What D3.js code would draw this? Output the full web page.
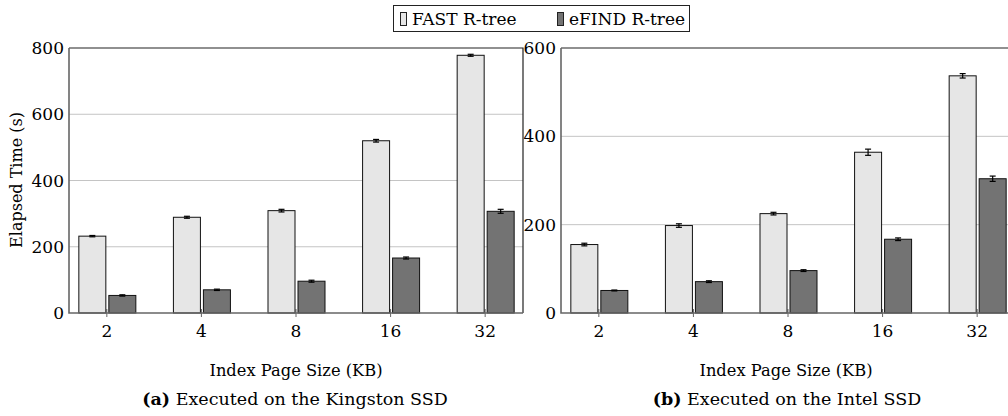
<!DOCTYPE html>
<html>
<head>
<meta charset="utf-8">
<script src="https://cdn.jsdelivr.net/npm/d3@7"></script>
<style>
  body { margin: 0; background: #fff; }
  svg text { font-family: "DejaVu Serif"; }
</style>
</head>
<body>
<svg id="chart" width="1008" height="416"></svg>
<script>
const pageSizes = ['2', '4', '8', '16', '32'];
const seriesNames = ['FAST R-tree', 'eFIND R-tree'];

// Kingston SSD (a)
const kingstonFast = [232, 289, 309, 520, 778];
const kingstonFastErr = [2, 3, 4, 4, 3];
const kingstonEfind = [53, 70, 96, 166, 307];
const kingstonEfindErr = [2, 2, 3, 3, 6];
const kingstonTicks = [0, 200, 400, 600, 800];

// Intel SSD (b)
const intelFast = [155, 198, 225, 364, 537];
const intelFastErr = [3, 4, 3, 7, 5];
const intelEfind = [51, 71, 96, 167, 304];
const intelEfindErr = [1, 2, 2, 3, 6];
const intelTicks = [0, 200, 400, 600];

const fills = ['#e6e6e6', '#737373'];

const svg = d3.select('#chart');
const plotTop = 48, plotBottom = 313, plotW = 454;

const drawPanel = options => {
  const g = svg.append('g');
  const x = d3.scalePoint()
              .domain(pageSizes)
              .range([options.x0, options.x0 + plotW])
              .padding(0.4);
  const y = d3.scaleLinear()
              .domain([0, options.ymax])
              .range([plotBottom, plotTop]);

  // grid
  g.selectAll('.grid')
   .data(options.ticks.filter(t => t > 0 && t < options.ymax))
   .enter().append('line')
   .attr('x1', options.x0).attr('x2', options.x0 + plotW)
   .attr('y1', d => y(d)).attr('y2', d => y(d))
   .attr('stroke', '#c4c4c4').attr('stroke-width', 1);

  // frame top / right
  g.append('path')
   .attr('d', `M${options.x0},${plotTop}H${options.x0 + plotW}V${plotBottom}`)
   .attr('fill', 'none').attr('stroke', '#222').attr('stroke-width', 1.2);

  // x ticks
  g.selectAll('.xt')
   .data(pageSizes)
   .enter().append('line')
   .attr('x1', d => x(d)).attr('x2', d => x(d))
   .attr('y1', plotBottom - 4).attr('y2', plotBottom + 4)
   .attr('stroke', '#666').attr('stroke-width', 1);

  const barW = 27, gap = 1;
  const series = [
    {vals: options.fast, errs: options.fastErr, off: -gap - barW, fill: fills[0]},
    {vals: options.efind, errs: options.efindErr, off: gap + 1, fill: fills[1]}
  ];

  series.forEach(s => {
    g.selectAll(null)
     .data(pageSizes)
     .enter().append('rect')
     .attr('x', d => x(d) + s.off)
     .attr('y', (d, i) => y(s.vals[i]))
     .attr('width', barW)
     .attr('height', (d, i) => plotBottom - y(s.vals[i]))
     .attr('fill', s.fill)
     .attr('stroke', '#111').attr('stroke-width', 1);

    // error bars
    const eb = g.selectAll(null)
                .data(pageSizes)
                .enter().append('g')
                .attr('stroke', '#000').attr('stroke-width', 1.2);
    const cx = d => x(d) + s.off + barW / 2;
    eb.append('line')
      .attr('x1', cx).attr('x2', cx)
      .attr('y1', (d, i) => y(s.vals[i] - s.errs[i]))
      .attr('y2', (d, i) => y(s.vals[i] + s.errs[i]));
    [-1, 1].forEach(sign => {
      eb.append('line')
        .attr('x1', d => cx(d) - 3).attr('x2', d => cx(d) + 3)
        .attr('y1', (d, i) => y(s.vals[i] + sign * s.errs[i]))
        .attr('y2', (d, i) => y(s.vals[i] + sign * s.errs[i]));
    });
  });

  // left and bottom axis lines
  g.append('path')
   .attr('d', `M${options.x0},${plotTop}V${plotBottom}H${options.x0 + plotW}`)
   .attr('fill', 'none').attr('stroke', '#666').attr('stroke-width', 1.6);

  // y tick labels
  g.selectAll('.yl')
   .data(options.ticks)
   .enter().append('text')
   .attr('x', options.x0 - 5)
   .attr('y', d => y(d) + 6)
   .attr('text-anchor', 'end')
   .attr('font-size', 17)
   .text(d => d);

  // x tick labels
  g.selectAll('.xl')
   .data(pageSizes)
   .enter().append('text')
   .attr('x', d => x(d))
   .attr('y', 337)
   .attr('text-anchor', 'middle')
   .attr('font-size', 17)
   .text(d => d);

  const cx = options.x0 + plotW / 2 + options.titleShift;
  g.append('text')
   .attr('x', cx).attr('y', 376)
   .attr('text-anchor', 'middle')
   .attr('font-size', 16.3)
   .text('Index Page Size (KB)');

  const cap = g.append('text')
               .attr('x', options.capX).attr('y', 405)
               .attr('text-anchor', 'middle')
               .attr('font-size', 17.5);
  cap.append('tspan').attr('font-weight', 'bold').text(options.capLabel);
  cap.append('tspan').text(' ' + options.caption);
};

drawPanel({
  x0: 69, ymax: 800, ticks: kingstonTicks,
  fast: kingstonFast, fastErr: kingstonFastErr,
  efind: kingstonEfind, efindErr: kingstonEfindErr,
  titleShift: 0, capX: 295,
  capLabel: '(a)', caption: 'Executed on the Kingston SSD'
});

drawPanel({
  x0: 561, ymax: 600, ticks: intelTicks,
  fast: intelFast, fastErr: intelFastErr,
  efind: intelEfind, efindErr: intelEfindErr,
  titleShift: -2, capX: 787,
  capLabel: '(b)', caption: 'Executed on the Intel SSD'
});

// y axis title
svg.append('text')
   .attr('transform', 'translate(22,180) rotate(-90)')
   .attr('text-anchor', 'middle')
   .attr('font-size', 16)
   .text('Elapsed Time (s)');

// legend
const legend = svg.append('g');
legend.append('rect')
      .attr('x', 393.5).attr('y', 5.5).attr('width', 296).attr('height', 26)
      .attr('fill', '#fff').attr('stroke', '#222').attr('stroke-width', 1);
const legendX = [400, 557];
seriesNames.forEach((name, i) => {
  legend.append('rect')
        .attr('x', legendX[i] + 0.5).attr('y', 12.5).attr('width', 6).attr('height', 13)
        .attr('fill', fills[i]).attr('stroke', '#222').attr('stroke-width', 1);
  legend.append('text')
        .attr('x', legendX[i] + 12).attr('y', 25)
        .attr('font-size', 17)
        .text(name);
});
</script>
</body>
</html>
